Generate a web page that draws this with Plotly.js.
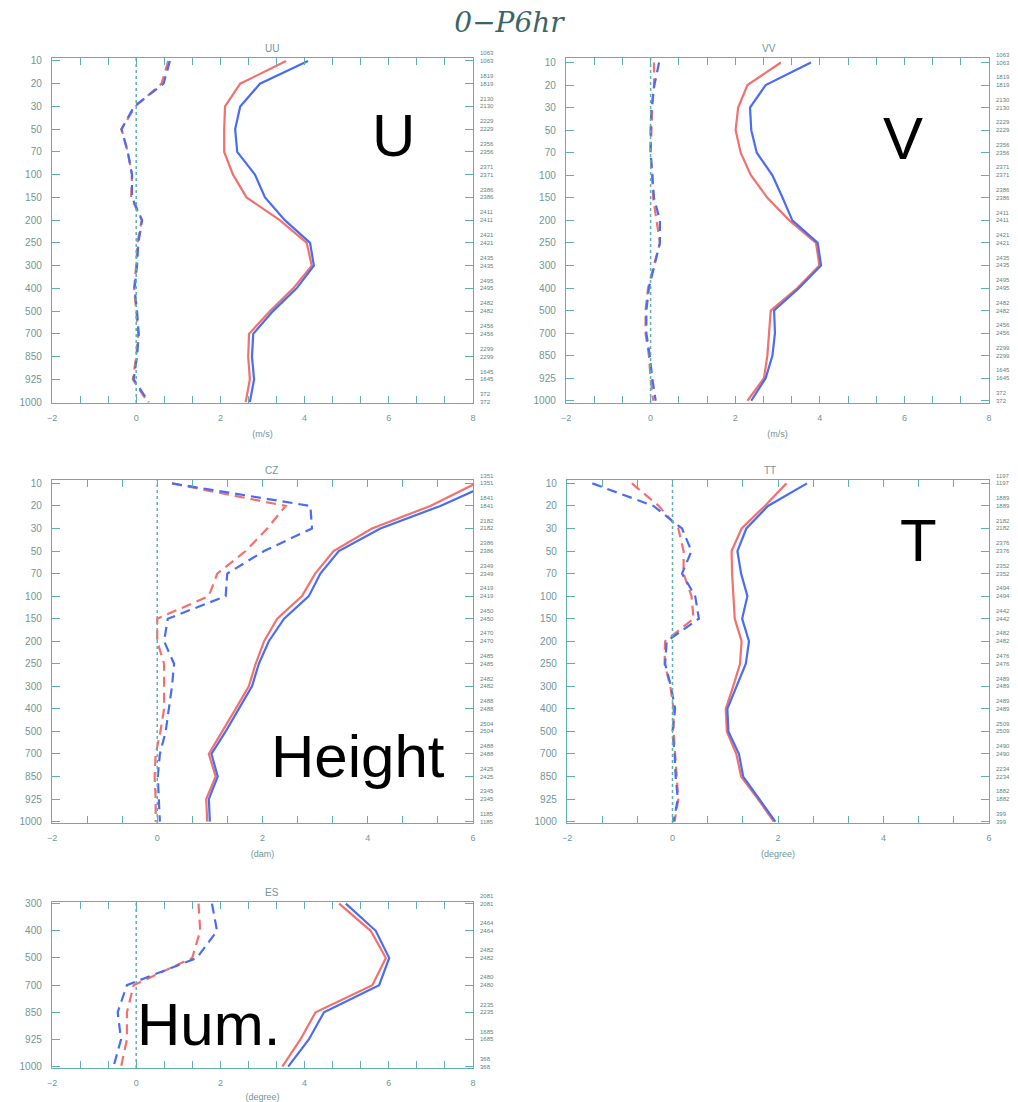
<!DOCTYPE html>
<html>
<head>
<meta charset="utf-8">
<script src="https://cdn.plot.ly/plotly-3.0.1.min.js"></script>
<style>html,body{margin:0;padding:0;background:#fff;}#chart{width:1018px;height:1102px;}</style>
</head>
<body>
<div id="chart"></div>
<script>
// ---------------- DATA ----------------
const levels = [10, 20, 30, 50, 70, 100, 150, 200, 250, 300, 400, 500, 700, 850, 925, 1000];
const esLevels = [300, 400, 500, 700, 850, 925, 1000];
const xTicks = [-2, 0, 2, 4, 6, 8];

// UU (m/s)
const uuRedSolid  = [3.56, 2.47, 2.11, 2.09, 2.09, 2.30, 2.62, 3.41, 4.05, 4.17, 3.73, 3.18, 2.68, 2.66, 2.70, 2.60];
const uuBlueSolid = [4.08, 2.94, 2.47, 2.35, 2.40, 2.82, 3.06, 3.53, 4.13, 4.22, 3.81, 3.25, 2.78, 2.75, 2.80, 2.70];
const uuRedDash   = [0.76, 0.60, -0.02, -0.35, -0.20, -0.10, -0.12, 0.13, 0.03, 0.00, -0.05, 0.00, 0.05, 0.00, -0.08, 0.27];
const uuBlueDash  = [0.80, 0.65, -0.05, -0.35, -0.20, -0.10, -0.10, 0.14, 0.05, 0.02, -0.04, 0.02, 0.06, 0.02, -0.06, 0.30];
const uuCounts    = [1063, 1819, 2130, 2229, 2356, 2371, 2386, 2411, 2421, 2435, 2495, 2482, 2456, 2299, 1645, 372];

// VV (m/s)
const vvRedSolid  = [3.08, 2.29, 2.07, 2.01, 2.13, 2.37, 2.76, 3.28, 3.91, 3.99, 3.47, 2.84, 2.80, 2.76, 2.68, 2.29];
const vvBlueSolid = [3.79, 2.72, 2.35, 2.38, 2.51, 2.88, 3.12, 3.35, 3.95, 4.03, 3.51, 2.92, 2.94, 2.88, 2.72, 2.38];
const vvRedDash   = [0.08, 0.08, 0.04, 0.02, 0.00, 0.04, 0.06, 0.14, 0.22, 0.08, -0.06, -0.12, -0.12, -0.04, 0.00, 0.06];
const vvBlueDash  = [0.20, 0.09, 0.02, 0.00, 0.00, 0.04, 0.08, 0.22, 0.22, 0.09, -0.04, -0.10, -0.10, -0.02, 0.04, 0.12];
const vvCounts    = [1063, 1819, 2130, 2229, 2356, 2371, 2386, 2411, 2421, 2435, 2495, 2482, 2456, 2299, 1645, 372];

// CZ (dam)
const czRedSolid  = [6.05, 5.19, 4.08, 3.35, 3.00, 2.75, 2.28, 2.03, 1.87, 1.74, 1.49, 1.23, 0.98, 1.11, 0.93, 0.95];
const czBlueSolid = [6.33, 5.38, 4.24, 3.45, 3.10, 2.88, 2.41, 2.12, 1.93, 1.80, 1.55, 1.30, 1.03, 1.15, 0.98, 1.00];
const czRedDash   = [0.28, 2.44, 2.09, 1.68, 1.14, 0.98, 0.00, 0.00, 0.13, 0.13, 0.13, 0.06, -0.03, -0.05, -0.03, -0.03];
const czBlueDash  = [0.28, 2.91, 2.94, 2.03, 1.33, 1.30, 0.20, 0.13, 0.32, 0.28, 0.22, 0.16, 0.05, 0.01, 0.03, 0.05];
const czCounts    = [1351, 1841, 2182, 2386, 2349, 2419, 2450, 2470, 2485, 2482, 2488, 2504, 2488, 2425, 2345, 1185];

// TT (degree)
const ttRedSolid  = [2.16, 1.75, 1.31, 1.12, 1.13, 1.15, 1.18, 1.31, 1.28, 1.15, 1.01, 1.03, 1.21, 1.30, 1.62, 1.92];
const ttBlueSolid = [2.55, 1.81, 1.40, 1.23, 1.30, 1.42, 1.32, 1.45, 1.39, 1.21, 1.04, 1.06, 1.26, 1.34, 1.65, 1.95];
const ttRedDash   = [-0.77, -0.26, 0.11, 0.21, 0.21, 0.36, 0.40, -0.14, -0.15, -0.04, 0.02, 0.02, 0.05, 0.08, 0.11, 0.04];
const ttBlueDash  = [-1.52, -0.36, 0.18, 0.36, 0.18, 0.43, 0.50, -0.11, -0.14, -0.03, 0.05, 0.00, 0.04, 0.06, 0.10, 0.02];
const ttCounts    = [1197, 1889, 2182, 2376, 2352, 2494, 2442, 2482, 2476, 2489, 2489, 2509, 2490, 2234, 1882, 399];

// ES (degree)
const esRedSolid  = [4.82, 5.57, 5.93, 5.61, 4.26, 3.90, 3.47];
const esBlueSolid = [4.98, 5.69, 6.01, 5.77, 4.46, 4.10, 3.61];
const esRedDash   = [1.48, 1.52, 1.33, -0.06, -0.22, -0.22, -0.36];
const esBlueDash  = [1.80, 1.92, 1.44, -0.22, -0.44, -0.36, -0.54];
const esCounts    = [2081, 2464, 2482, 2480, 2235, 1685, 368];

// ---------------- LAYOUT ----------------
const W = 1018, H = 1102;
const RED = '#f2706e', BLUE = '#4a6cf2';
const AXC = '#5fb0ae', TXC = '#6f9696';

const panels = [
  {name:'UU', unit:'(m/s)',   big:'U',      lv:levels,   d:[uuRedSolid,uuBlueSolid,uuRedDash,uuBlueDash], c:uuCounts,
   px:[52,473], py:[58,403], xr:[-2,8], pad:[0.13,0.04], big_xy:[393,135]},
  {name:'VV', unit:'(m/s)',   big:'V',      lv:levels,   d:[vvRedSolid,vvBlueSolid,vvRedDash,vvBlueDash], c:vvCounts,
   px:[566,989], py:[58,403], xr:[-2,8], pad:[0.2,0.1], big_xy:[903,138]},
  {name:'CZ', unit:'(dam)',   big:'Height', lv:levels,   d:[czRedSolid,czBlueSolid,czRedDash,czBlueDash], c:czCounts,
   px:[52,473], py:[480,823], xr:[-2,6], pad:[0.15,0.06], big_xy:[358,756]},
  {name:'TT', unit:'(degree)',big:'T',      lv:levels,   d:[ttRedSolid,ttBlueSolid,ttRedDash,ttBlueDash], c:ttCounts,
   px:[567,989], py:[480,823], xr:[-2,6], pad:[0.15,0.06], big_xy:[918,540]},
  {name:'ES', unit:'(degree)',big:'Hum.',   lv:esLevels, d:[esRedSolid,esBlueSolid,esRedDash,esBlueDash], c:esCounts,
   px:[52,473], py:[902,1068], xr:[-2,8], pad:[0.06,0.05], big_xy:[208,1024]}
];

const traces = [];
const layout = {
  width: W, height: H,
  margin: {l:0, r:0, t:0, b:0},
  paper_bgcolor: '#fff', plot_bgcolor: '#fff',
  showlegend: false,
  font: {family: 'Liberation Sans, Arial, sans-serif', color: TXC},
  shapes: [], annotations: [],
  title: {text: '<i>0\u2212P6hr</i>', x: 0.5, xanchor: 'center', y: 1 - 22/H, yanchor: 'middle',
          font: {family: 'DejaVu Serif, serif', size: 28, color: '#3a6565'}}
};

panels.forEach((p, i) => {
  const k = i + 1;
  const xk = 'x' + k, yk = 'y' + k;
  const xa = 'xaxis' + k, ya = 'yaxis' + k;
  const ck = 6 + i;                       // counts axis index
  const n = p.lv.length;
  const cats = p.lv.map(String);
  const dom = {x: [p.px[0]/W, p.px[1]/W], y: [1 - p.py[1]/H, 1 - p.py[0]/H]};
  const yr = [n - 1 + p.pad[1], -p.pad[0]];

  const styles = [
    {color: RED, dash: 'solid'}, {color: BLUE, dash: 'solid'},
    {color: RED, dash: '10px,6px'}, {color: BLUE, dash: '10px,6px'}
  ];
  p.d.forEach((vals, j) => {
    traces.push({
      type: 'scatter', mode: 'lines', x: vals, y: cats,
      xaxis: xk, yaxis: yk, hoverinfo: 'skip',
      line: {color: styles[j].color, width: 2.2, dash: styles[j].dash}
    });
  });

  layout[xa] = {
    domain: dom.x, anchor: yk, range: p.xr, tickvals: xTicks, ticktext: xTicks.map(v => v < 0 ? '\u2212' + Math.abs(v) : String(v)),
    showline: true, linecolor: AXC, linewidth: 1.2, mirror: 'allticks',
    ticks: 'inside', ticklen: 7, tickcolor: AXC, tickwidth: 1,
    minor: {dtick: 2/3, tick0: -2, ticks: 'inside', ticklen: 4, tickcolor: AXC, tickwidth: 1, showgrid: false},
    showgrid: false, zeroline: false,
    tickfont: {size: 9, color: TXC}, ticklabelstandoff: 6,
    title: {text: p.unit, font: {size: 9, color: TXC}, standoff: 8}
  };
  layout[ya] = {
    domain: dom.y, anchor: xk, type: 'category', categoryarray: cats, range: yr,
    showline: true, linecolor: AXC, linewidth: 1.2, mirror: 'allticks',
    ticks: 'inside', ticklen: 8, tickcolor: AXC, tickwidth: 1,
    showgrid: false, zeroline: false,
    tickfont: {size: 10, color: TXC}, ticklabelstandoff: 7
  };
  layout['yaxis' + ck] = {
    domain: dom.y, anchor: xk, overlaying: yk, side: 'right', range: yr,
    tickvals: p.lv.map((_, j) => j), ticktext: p.c.map(v => v + '<br>' + v),
    ticks: '', showline: false, showgrid: false, zeroline: false,
    tickfont: {size: 6, color: '#5e7f7f'}, ticklabelstandoff: 6, ticklabelshift: 4
  };
  // invisible trace to anchor counts axis
  traces.push({type:'scatter', mode:'none', x:[p.xr[0]], y:[0], xaxis:xk, yaxis:'y'+ck, hoverinfo:'skip', showlegend:false});

  // zero dotted line
  layout.shapes.push({type:'line', xref: xk, yref: yk + ' domain', x0: 0, x1: 0, y0: 0, y1: 1,
    line: {color: AXC, width: 1.5, dash: 'dot'}});

  // panel title
  layout.annotations.push({text: p.name, xref: 'paper', yref: 'paper', x: (dom.x[0]+dom.x[1])/2, y: dom.y[1],
    yanchor: 'bottom', yshift: 2, showarrow: false, font: {size: 10, color: TXC}});
  // big label
  layout.annotations.push({text: p.big, xref: 'paper', yref: 'paper', x: p.big_xy[0]/W, y: 1 - p.big_xy[1]/H,
    xanchor: 'center', yanchor: 'middle', showarrow: false,
    font: {family: 'Liberation Sans, Arial, sans-serif', size: 60, color: '#000'}});
});

Plotly.newPlot('chart', traces, layout, {staticPlot: true, displayModeBar: false});
</script>
</body>
</html>
